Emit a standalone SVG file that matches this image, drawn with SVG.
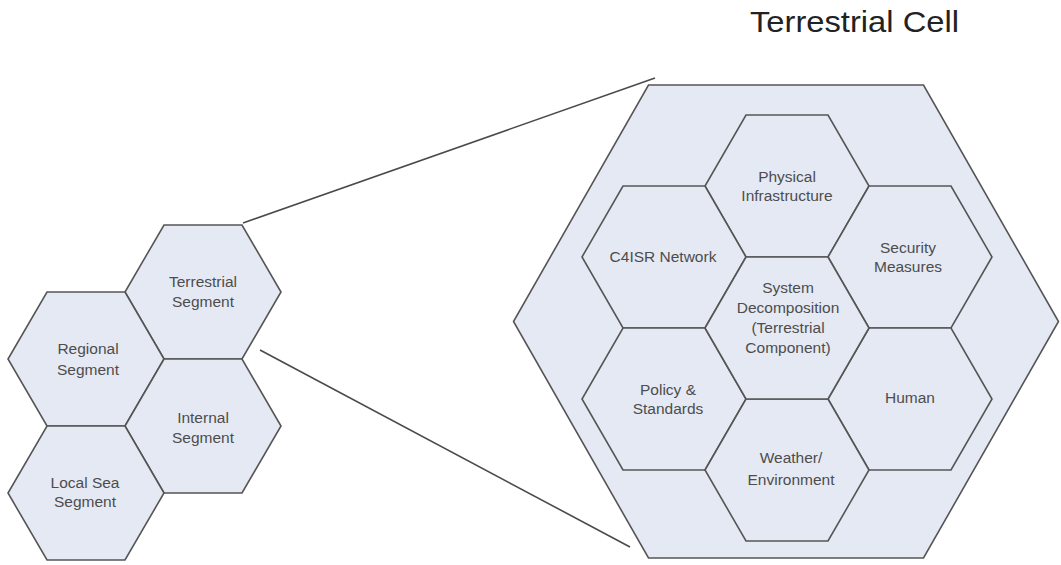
<svg xmlns="http://www.w3.org/2000/svg" xmlns:xlink="http://www.w3.org/1999/xlink" width="1061" height="565" viewBox="0 0 1061 565">
  <style>
    .hex { fill: #e5e9f4; stroke: #555; stroke-width: 1.6; stroke-linejoin: miter; }
    .lbl { font-family: "Liberation Sans", Arial, sans-serif; font-size: 15.5px; fill: #4d4d4d; text-anchor: middle; }
    .conn { stroke: #4a4a4a; stroke-width: 1.6; fill: none; }
    .title { font-family: "Liberation Sans", Arial, sans-serif; font-size: 30px; fill: #222; }
  </style>
  <defs>
    <polygon id="ihex" points="-41,-71 41,-71 82,0 41,71 -41,71 -82,0"/>
    <polygon id="shex" points="-39,-67 39,-67 78,0 39,67 -39,67 -78,0"/>
  </defs>
  <rect width="1061" height="565" fill="#fff"/>

  <text class="title" x="750" y="32" textLength="209" lengthAdjust="spacingAndGlyphs">Terrestrial Cell</text>

  <g id="connectors">
    <line class="conn" x1="243" y1="223" x2="655" y2="78"/>
    <line class="conn" x1="260" y1="350" x2="630" y2="547"/>
  </g>

  <g id="terrestrial-segment">
    <use xlink:href="#shex" href="#shex" class="hex" transform="translate(203,292)"/>
    <text class="lbl" x="203" y="287">Terrestrial</text>
    <text class="lbl" x="203" y="307">Segment</text>
  </g>
  <g id="regional-segment">
    <use xlink:href="#shex" href="#shex" class="hex" transform="translate(86,359)"/>
    <text class="lbl" x="88" y="354">Regional</text>
    <text class="lbl" x="88" y="375">Segment</text>
  </g>
  <g id="internal-segment">
    <use xlink:href="#shex" href="#shex" class="hex" transform="translate(203,426)"/>
    <text class="lbl" x="203" y="423">Internal</text>
    <text class="lbl" x="203" y="443">Segment</text>
  </g>
  <g id="local-sea-segment">
    <use xlink:href="#shex" href="#shex" class="hex" transform="translate(86,493)"/>
    <text class="lbl" x="85" y="488">Local Sea</text>
    <text class="lbl" x="85" y="507">Segment</text>
  </g>

  <g id="terrestrial-cell">
    <polygon class="hex" points="648.5,85 923.5,85 1058.5,321.5 923.5,558 648.5,558 513.5,321.5"/>
  </g>

  <g id="physical-infrastructure">
    <use xlink:href="#ihex" href="#ihex" class="hex" transform="translate(787,186)"/>
    <text class="lbl" x="787" y="182">Physical</text>
    <text class="lbl" x="787" y="201">Infrastructure</text>
  </g>
  <g id="c4isr-network">
    <use xlink:href="#ihex" href="#ihex" class="hex" transform="translate(664,257)"/>
    <text class="lbl" x="663" y="262">C4ISR Network</text>
  </g>
  <g id="security-measures">
    <use xlink:href="#ihex" href="#ihex" class="hex" transform="translate(910,257)"/>
    <text class="lbl" x="908" y="253">Security</text>
    <text class="lbl" x="908" y="272">Measures</text>
  </g>
  <g id="policy-standards">
    <use xlink:href="#ihex" href="#ihex" class="hex" transform="translate(664,399)"/>
    <text class="lbl" x="668" y="395">Policy &amp;</text>
    <text class="lbl" x="668" y="414">Standards</text>
  </g>
  <g id="human">
    <use xlink:href="#ihex" href="#ihex" class="hex" transform="translate(910,399)"/>
    <text class="lbl" x="910" y="403">Human</text>
  </g>
  <g id="weather-environment">
    <use xlink:href="#ihex" href="#ihex" class="hex" transform="translate(787,470)"/>
    <text class="lbl" x="791" y="463">Weather/</text>
    <text class="lbl" x="791" y="485">Environment</text>
  </g>
  <g id="system-decomposition">
    <use xlink:href="#ihex" href="#ihex" class="hex" transform="translate(787,328)"/>
    <text class="lbl" x="788" y="293">System</text>
    <text class="lbl" x="788" y="313">Decomposition</text>
    <text class="lbl" x="788" y="333">(Terrestrial</text>
    <text class="lbl" x="788" y="353">Component)</text>
  </g>
</svg>
